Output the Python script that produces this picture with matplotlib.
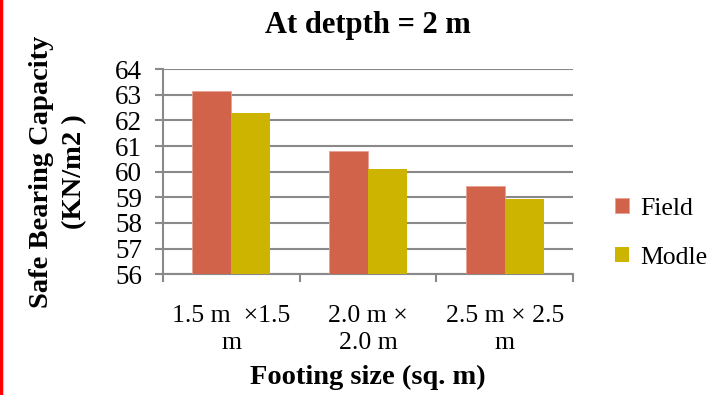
import matplotlib
matplotlib.use("Agg")
import matplotlib.pyplot as plt
import numpy as np
from matplotlib.lines import Line2D

categories = ["1.5 m  \u00d71.5\nm", "2.0 m \u00d7\n2.0 m", "2.5 m \u00d7 2.5\nm"]
field = [63.15, 60.82, 59.42]
modle = [62.28, 60.1, 58.93]

plt.rcParams['font.family'] = ['Liberation Serif', 'DejaVu Serif']

fig = plt.figure(figsize=(7.28, 3.95), dpi=100)
ax = fig.add_axes([0.224, 0.306, 0.563, 0.519])

grid_c = '#898989'
x = np.arange(len(categories))
w = 0.285
ax.bar(x - w / 2, field, w, color='#D0634A', edgecolor='#E8A090', linewidth=0.6, label='Field', zorder=3)
ax.bar(x + w / 2, modle, w, color='#CDB400', label='Modle', zorder=3)

ax.set_ylim(56, 64)
ax.set_xlim(-0.5, 2.5)
ax.set_yticks(range(56, 65))
ax.yaxis.grid(True, color=grid_c, linewidth=1.5, zorder=0)
ax.set_xticks([-0.5, 0.5, 1.5, 2.5])
ax.set_xticklabels([])
ax.set_xticks(x, minor=True)
ax.set_xticklabels(categories, minor=True, fontsize=18.5, linespacing=1.3)
ax.tick_params(axis='x', which='minor', length=0, pad=22)
ax.tick_params(axis='x', which='major', length=6, width=1.5, color=grid_c, direction='out')
ax.tick_params(axis='y', length=6, width=1.5, color=grid_c, labelsize=19.5, pad=9)

for s in ['top', 'right']:
    ax.spines[s].set_visible(False)
for s in ['left', 'bottom']:
    ax.spines[s].set_color(grid_c)
    ax.spines[s].set_linewidth(1.5)

ax.set_title("At detpth = 2 m", fontsize=22, fontweight='bold', pad=26)
ax.set_xlabel("Footing size (sq. m)", fontsize=20.5, fontweight='bold', labelpad=8)
ax.set_ylabel("Safe Bearing Capacity\n(KN/m2 )", fontsize=20.5, fontweight='bold', labelpad=20, linespacing=1.45)

ax.legend(loc='center left', bbox_to_anchor=(1.045, 0.2), frameon=False, fontsize=18.5,
          handlelength=0.55, handleheight=0.55, labelspacing=1.05, handletextpad=0.45)

fig.add_artist(Line2D([0.0015, 0.0015], [0, 1], color='red', linewidth=2.5, transform=fig.transFigure))

fig.savefig("out.png", dpi=100)
